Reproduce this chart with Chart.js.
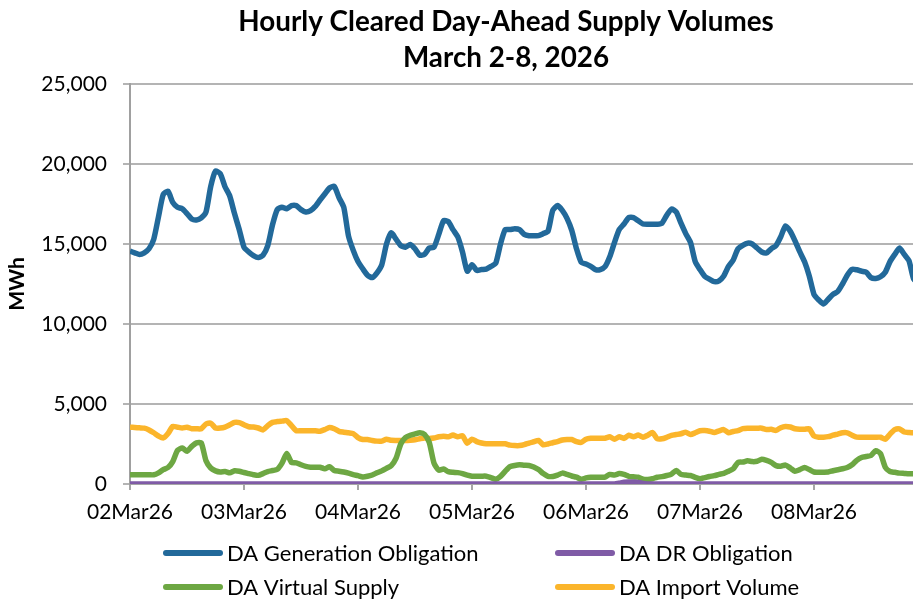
<!DOCTYPE html>
<html>
<head>
<meta charset="utf-8">
<script src="https://cdn.jsdelivr.net/npm/chart.js@4.4.1/dist/chart.umd.min.js"></script>
<style>
html, body { margin: 0; padding: 0; overflow: hidden; background: #fff; width: 913px; height: 602px; }
#wrap { width: 1014px; height: 602px; }
canvas { display: block; }
</style>
</head>
<body>
<div id="wrap"><canvas id="c" width="1014" height="602" style="width:1014px;height:602px"></canvas></div>
<script>
// ---- Data (hourly, 02Mar26 00:00 .. 08Mar26 23:00) ----
const titleLines = ['Hourly Cleared Day-Ahead Supply Volumes', 'March 2-8, 2026'];
const dayLabels = ['02Mar26', '03Mar26', '04Mar26', '05Mar26', '06Mar26', '07Mar26', '08Mar26'];
const seriesNames = ['DA Generation Obligation', 'DA DR Obligation', 'DA Virtual Supply', 'DA Import Volume'];

const genObligation = [
  14550, 14450, 14350, 14450, 14700, 15300, 16700, 18100, 18300, 17600, 17300, 17200,
  16900, 16560, 16500, 16630, 17000, 18600, 19550, 19400, 18580, 18000, 16900, 15900,
  14800, 14500, 14270, 14150, 14300, 14900, 16200, 17150, 17300, 17200, 17400, 17400,
  17150, 17000, 17080, 17350, 17750, 18130, 18500, 18600, 17900, 17300, 15500, 14600,
  13900, 13450, 13050, 12900, 13200, 13700, 15000, 15700, 15300, 14900, 14800, 14970,
  14700, 14300, 14350, 14750, 14800, 15600, 16450, 16400, 15900, 15450, 14500, 13300,
  13700, 13350, 13400, 13430, 13600, 13800, 15000, 15900, 15900, 15950, 15900, 15600,
  15520, 15520, 15520, 15650, 15800, 17100, 17400, 17100, 16600, 15850, 14700, 13850,
  13750, 13600, 13400, 13400, 13580, 14200, 15100, 15900, 16250, 16650, 16650, 16450,
  16250, 16230, 16230, 16230, 16300, 16800, 17180, 17000, 16300, 15650, 15100, 13900,
  13400, 12980, 12800, 12650, 12700, 13000, 13600, 14000, 14700, 14920, 15050, 15000,
  14750, 14500, 14440, 14700, 14900, 15450, 16130, 15800, 15200, 14520, 13900, 13000,
  11850, 11500, 11250, 11550, 11850, 12030, 12500, 13050, 13420, 13390, 13300, 13230,
  12900, 12850, 12950, 13230, 13900, 14350, 14750, 14350, 13950, 12800, 12600, 12700
];

const drObligation = [
  0, 0, 0, 0, 0, 0, 0, 0, 0, 0, 0, 0,
  0, 0, 0, 0, 0, 0, 0, 0, 0, 0, 0, 0,
  0, 0, 0, 0, 0, 0, 0, 0, 0, 0, 0, 0,
  0, 0, 0, 0, 0, 0, 0, 0, 0, 0, 0, 0,
  0, 0, 0, 0, 0, 0, 0, 0, 0, 0, 0, 0,
  0, 0, 0, 0, 0, 0, 0, 0, 0, 0, 0, 0,
  0, 0, 0, 0, 0, 0, 0, 0, 0, 0, 0, 0,
  0, 0, 0, 0, 0, 0, 0, 0, 0, 0, 0, 0,
  0, 0, 0, 0, 0, 0, 0, 50, 110, 120, 120, 100,
  30, 0, 0, 0, 0, 0, 0, 0, 0, 0, 0, 0,
  0, 0, 0, 0, 0, 0, 0, 0, 0, 0, 0, 0,
  0, 0, 0, 0, 0, 0, 0, 0, 0, 0, 0, 0,
  0, 0, 0, 0, 0, 0, 0, 0, 0, 0, 0, 0,
  0, 0, 0, 0, 0, 0, 0, 0, 0, 0, 0, 0
];

const virtualSupply = [
  575, 575, 575, 575, 575, 575, 700, 900, 1030, 1400, 2100, 2250,
  2050, 2350, 2575, 2570, 1450, 1000, 820, 750, 780, 700, 830, 800,
  720, 650, 580, 540, 650, 780, 840, 910, 1300, 1900, 1350, 1325,
  1200, 1100, 1050, 1050, 1050, 950, 1080, 840, 800, 750, 680, 590,
  520, 440, 480, 560, 700, 820, 980, 1150, 1600, 2500, 2900, 3050,
  3130, 3200, 3100, 2600, 1300, 860, 940, 770, 730, 710, 650, 550,
  490, 490, 490, 490, 400, 300, 480, 800, 1080, 1160, 1200, 1170,
  1160, 1060, 900, 650, 480, 470, 550, 680, 600, 500, 425, 290,
  380, 425, 425, 425, 425, 600, 560, 650, 600, 480, 450, 425,
  300, 280, 330, 425, 460, 530, 620, 850, 600, 560, 530, 420,
  330, 400, 470, 520, 600, 660, 800, 950, 1350, 1370, 1450, 1400,
  1420, 1550, 1480, 1350, 1150, 1110, 1180, 1000, 800, 900, 1030, 900,
  750, 740, 740, 750, 830, 890, 950, 1030, 1200, 1480, 1660, 1720,
  1780, 2080, 1900, 1050, 780, 730, 680, 660, 640, 640, 640, 640
];

const importVolume = [
  3550, 3530, 3510, 3490, 3380, 3200, 3000, 2880, 3150, 3600, 3550, 3500,
  3550, 3450, 3450, 3450, 3750, 3800, 3500, 3500, 3560, 3700, 3850, 3840,
  3700, 3580, 3560, 3500, 3380, 3650, 3850, 3900, 3930, 3960, 3650, 3330,
  3330, 3330, 3330, 3330, 3300, 3400, 3530, 3450, 3290, 3240, 3200, 3150,
  2900, 2780, 2780, 2720, 2680, 2680, 2800, 2730, 2720, 2720, 2720, 2740,
  2770, 2830, 2880, 2850, 2880, 2950, 2990, 2950, 3060, 2950, 3020, 2550,
  2800, 2650, 2560, 2510, 2510, 2510, 2510, 2510, 2430, 2400, 2400, 2460,
  2560, 2640, 2720, 2450, 2500, 2580, 2650, 2750, 2780, 2780, 2650, 2600,
  2800, 2860, 2860, 2860, 2860, 2950, 2800, 2950, 2850, 3050, 2950, 3060,
  2920, 3050, 3220, 2830, 2825, 2920, 3040, 3090, 3140, 3240, 3100, 3200,
  3330, 3340, 3300, 3220, 3320, 3400, 3200, 3280, 3340, 3460, 3490, 3490,
  3490, 3490, 3400, 3420, 3350, 3520, 3600, 3560, 3450, 3420, 3420, 3450,
  3000, 2925, 2925, 2960, 3050, 3120, 3200, 3200, 3050, 2930, 2925, 2925,
  2925, 2925, 2925, 2800, 3120, 3400, 3450, 3250, 3220, 3200, 3200, 3200
];

const seriesColors = ['#22699A', '#7F5BA6', '#6DA743', '#FBB52B'];

// ---- Build Chart.js structures ----
const FONT = 'Lato, "Liberation Sans", sans-serif';
const toXY = arr => arr.map((v, i) => ({ x: i, y: v }));
const allSeries = [genObligation, drObligation, virtualSupply, importVolume];

const datasets = allSeries.map((arr, k) => ({
  label: seriesNames[k],
  data: toXY(arr),
  borderColor: seriesColors[k],
  backgroundColor: seriesColors[k],
  borderWidth: 5.5,
  pointRadius: 0,
  tension: 0.2,
  fill: false
}));

const titlePlugin = {
  id: 'centeredTitle',
  afterDraw(chart) {
    const ctx = chart.ctx;
    ctx.save();
    ctx.font = 'bold 27.8px ' + FONT;
    ctx.fillStyle = '#000';
    ctx.textAlign = 'center';
    ctx.textBaseline = 'middle';
    ctx.fillText(titleLines[0], 506, 22);
    ctx.fillText(titleLines[1], 506, 58);
    ctx.restore();
  }
};

const legendPlugin = {
  id: 'gridLegend',
  afterDraw(chart) {
    const ctx = chart.ctx;
    const cols = [163, 555];
    const rows = [553, 587];
    ctx.save();
    ctx.font = '22px ' + FONT;
    ctx.textBaseline = 'middle';
    ctx.textAlign = 'left';
    chart.data.datasets.forEach((ds, i) => {
      const x = cols[i % 2];
      const y = rows[Math.floor(i / 2)];
      ctx.strokeStyle = ds.borderColor;
      ctx.lineWidth = 6;
      ctx.lineCap = 'round';
      ctx.beginPath();
      ctx.moveTo(x + 3, y);
      ctx.lineTo(x + 57, y);
      ctx.stroke();
      ctx.fillStyle = '#000';
      ctx.fillText(ds.label, x + 64, y + 1);
    });
    ctx.restore();
  }
};

new Chart(document.getElementById('c'), {
  type: 'line',
  data: { datasets },
  plugins: [titlePlugin, legendPlugin],
  options: {
    responsive: false,
    animation: false,
    devicePixelRatio: 1,
    layout: { padding: { left: 0, right: 86, top: 84, bottom: 78 } },
    plugins: {
      legend: { display: false },
      tooltip: { enabled: false },
      title: { display: false }
    },
    scales: {
      x: {
        type: 'linear',
        min: 0,
        max: 168,
        afterFit: s => { s.height = 40; },
        grid: { drawOnChartArea: false, drawTicks: true, tickLength: 6, color: '#a6a6a6', lineWidth: 2 },
        border: { display: true, color: '#a6a6a6', width: 2 },
        ticks: {
          stepSize: 24,
          autoSkip: false,
          maxRotation: 0,
          includeBounds: false,
          padding: 10,
          color: '#000',
          font: { family: FONT, size: 21 },
          callback: v => dayLabels[v / 24] ?? ''
        }
      },
      y: {
        min: 0,
        max: 25000,
        afterFit: s => { s.width = 130; },
        grid: { color: '#b4b4b4', lineWidth: 2, tickLength: 7, drawTicks: true },
        border: { display: true, color: '#a0a0a0', width: 2 },
        ticks: {
          stepSize: 5000,
          padding: 16,
          color: '#000',
          font: { family: FONT, size: 21 },
          callback: v => v.toLocaleString('en-US')
        },
        title: {
          display: true,
          text: 'MWh',
          color: '#000',
          font: { family: FONT, size: 21, weight: 'bold' },
          padding: { top: 5, bottom: 0 }
        }
      }
    }
  }
});
</script>
</body>
</html>
